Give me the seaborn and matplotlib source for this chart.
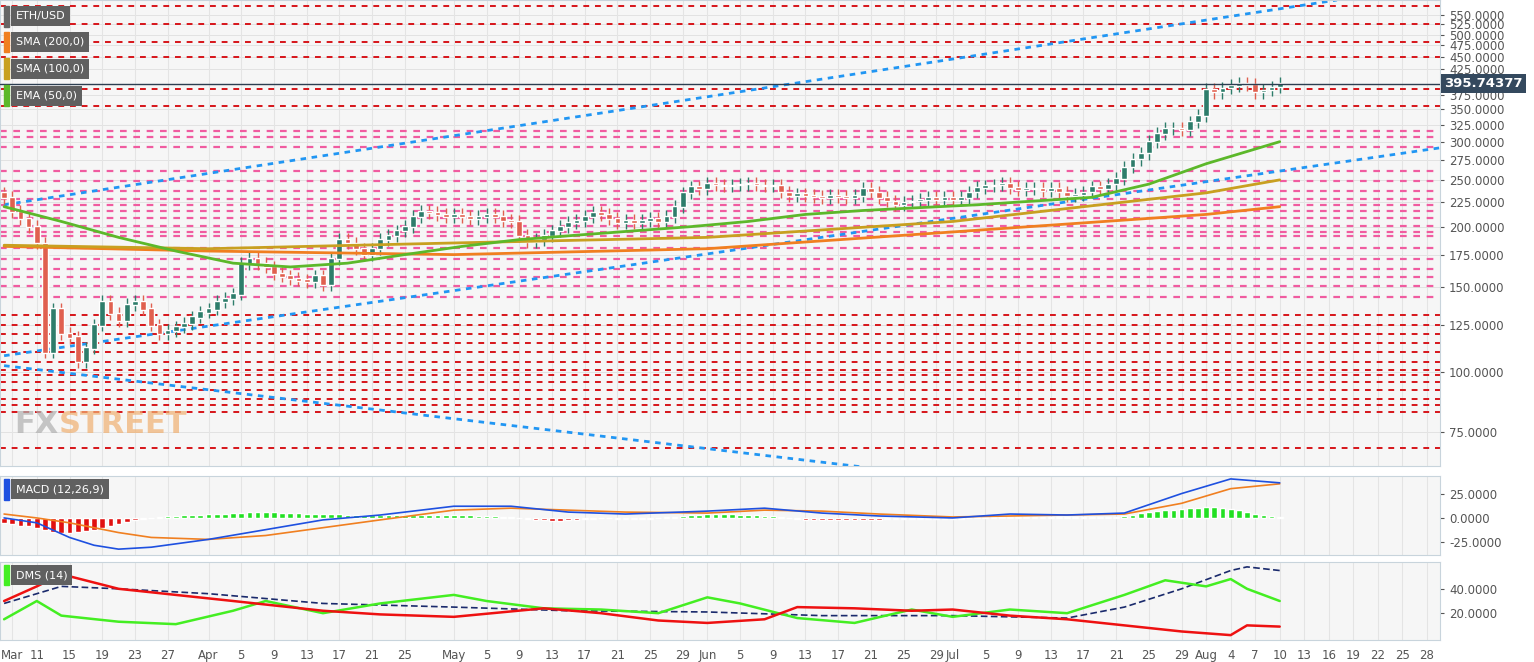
import numpy as np
import pandas as pd
import matplotlib
matplotlib.use("Agg")
import matplotlib.pyplot as plt
import matplotlib.ticker as mticker
import seaborn as sns

sns.set_style("white")
plt.rcParams['font.family'] = ['DejaVu Sans']

# ---------------- data ----------------
# day index: 0 = Mar 7
closes_mar = [230, 215, 208, 200, 185, 110, 135, 120, 118, 105, 112, 125, 140, 132,
              128, 138, 140, 135, 125, 120, 122, 124, 126, 130, 133]
closes_apr = [135, 140, 142, 145, 168, 172, 168, 165, 160, 158, 156, 155, 154, 158, 152,
              172, 188, 185, 180, 175, 180, 188, 192, 196, 200, 210, 215, 214, 212, 210]
closes_may = [212, 210, 208, 210, 212, 210, 206, 205, 192, 186, 188, 192, 196, 200, 204,
              206, 210, 214, 212, 208, 204, 206, 204, 206, 208, 205, 210, 220, 235, 242, 240]
closes_jun = [246, 244, 243, 244, 245, 246, 244, 243, 244, 236, 232, 234, 232, 231, 230,
              232, 231, 230, 232, 240, 236, 230, 226, 222, 225, 226, 228, 230, 228, 230]
closes_jul = [228, 230, 236, 241, 243, 244, 246, 241, 239, 240, 240, 238, 240, 236, 232,
              233, 236, 242, 240, 245, 252, 266, 276, 284, 300, 312, 320, 320, 318, 330, 340]
closes_aug = [386, 380, 388, 392, 396, 394, 380, 384, 390, 396]
closes = closes_mar + closes_apr + closes_may + closes_jun + closes_jul + closes_aug

ma_days = [0, 7, 14, 21, 28, 35, 42, 49, 56, 63, 70, 77, 84, 91, 98, 105, 112, 119, 126, 133, 140, 147, 156]
ema50 = [220, 205, 190, 178, 168, 165, 168, 175, 182, 188, 192, 196, 200, 205, 212, 216, 219, 222, 226, 230, 245, 270, 300]
sma_days = [0, 25, 55, 86, 116, 147, 156]
sma100 = [183, 180, 185, 190, 205, 235, 250]
sma200 = [182, 178, 175, 180, 195, 212, 220]

red_levels = [572, 525, 483, 450, 385, 356, 131, 125, 120, 115, 110, 105, 101, 98.6, 95.3, 91.7, 88, 85.4, 82.6, 69.5]
pink_levels = [316, 307, 292, 261, 249, 237, 228, 222, 216, 208, 201, 195, 191, 181, 171, 163, 157, 151, 143]

trend_x = [[0, 163], [0, 176], [0, 105]]
trend_y = [[222, 590], [108, 292], [103, 63.5]]

last_price = 395.74377

hist = ([-5, -6, -8, -8] +
        [-10, -12, -14, -15, -15, -14, -13, -12, -10, -8] +
        [-6, -4, -2, -1, 0, 1, 2, 2, 3, 3, 3] +
        [4, 4, 4, 5, 5, 6, 6, 6, 6, 5, 5, 5, 4, 4, 4, 4, 4, 3, 3, 3, 3, 3, 3, 3, 3, 3, 3, 3, 3, 3] +
        [3, 3, 3, 2, 2, 2, 1, 1, 0, -1, -2, -2, -3, -3, -2, -2, -1, -1, 0, 0, -1, -1, -1, -1, -1, 0, 1, 1, 2, 3, 3] +
        [4, 4, 4, 4, 3, 3, 3, 2, 2, 1, 0, -1, -2, -2, -2, -2, -2, -2, -2, -2, -2, -2, -1, -1, -1, -1, -1, -1, -1, -1] +
        [-1, -1, 0, 1, 1, 1, 1, 1, 1, 1, 1, 1, 1, 1, 1, 1, 1, 1, 1, 1, 1, 2, 3, 5, 6, 7, 8, 8, 9, 10, 10] +
        [11, 11, 10, 9, 8, 6, 4, 3, 2, 1])
macd_days = [0, 4, 8, 11, 14, 18, 25, 32, 39, 46, 55, 62, 69, 76, 86, 93, 100, 107, 116, 123, 130, 137, 144, 150, 156]
macd = [0, -5, -20, -28, -32, -30, -22, -12, -2, 3, 12, 12, 6, 4, 7, 10, 5, 2, 0, 4, 3, 5, 25, 40, 36]
signal = [4, 0, -5, -10, -15, -20, -22, -18, -10, -2, 8, 10, 8, 6, 5, 8, 7, 4, 1, 2, 3, 4, 15, 30, 35]

dms_days = [0, 4, 7, 14, 21, 28, 32, 39, 46, 55, 59, 66, 73, 80, 86, 90, 97, 104, 111, 116, 123, 130, 137, 142, 147, 150, 152, 156]
plus_di = [15, 30, 18, 13, 11, 22, 30, 20, 28, 35, 30, 24, 23, 20, 33, 28, 16, 12, 23, 17, 23, 20, 35, 47, 42, 48, 40, 30]
minus_days = [0, 4, 7, 14, 21, 28, 39, 46, 55, 66, 73, 80, 86, 93, 97, 104, 111, 116, 123, 130, 137, 144, 150, 152, 156]
minus_di = [30, 42, 52, 40, 35, 30, 22, 19, 17, 24, 20, 14, 12, 15, 25, 24, 22, 23, 18, 15, 10, 5, 2, 10, 9]
adx_days = [0, 7, 14, 25, 39, 55, 69, 86, 100, 116, 130, 137, 144, 150, 152, 156]
adx = [28, 42, 40, 36, 28, 25, 22, 21, 18, 18, 16, 25, 40, 55, 58, 55]

xtick_days = [1, 4, 8, 12, 16, 20, 25, 29, 33, 37, 41, 45, 49, 55, 59, 63, 67, 71, 75, 79, 83,
              86, 90, 94, 98, 102, 106, 110, 114, 116, 120, 124, 128, 132, 136, 140, 144,
              147, 150, 153, 156, 159, 162, 165, 168, 171, 174]
xtick_labels = ["Mar", "11", "15", "19", "23", "27", "Apr", "5", "9", "13", "17", "21", "25",
                "May", "5", "9", "13", "17", "21", "25", "29", "Jun", "5", "9", "13", "17", "21", "25", "29",
                "Jul", "5", "9", "13", "17", "21", "25", "29",
                "Aug", "4", "7", "10", "13", "16", "19", "22", "25", "28"]

# ---------------- figure ----------------
fig = plt.figure(figsize=(15.34, 6.62), dpi=100)
W = 1440 / 1534
ax = fig.add_axes([0, 1 - 466 / 662, W, 466 / 662])
ax2 = fig.add_axes([0, 1 - 555 / 662, W, 79 / 662], sharex=ax)
ax3 = fig.add_axes([0, 1 - 640 / 662, W, 78 / 662], sharex=ax)
bg = "#f6f6f6"
for a in (ax, ax2, ax3):
    a.set_facecolor(bg)
    a.yaxis.tick_right()
    a.tick_params(axis='y', labelsize=8.5, colors="#555555", length=3)
    a.tick_params(axis='x', labelsize=8.5, colors="#555555", length=3)
    for s in a.spines.values():
        s.set_color("#c8d4dc")
    a.grid(axis='x', color="#e4e4e4", lw=0.8)
XMIN, XMAX = -0.5, 175.6

# price panel
ax.set_yscale('log')
ax.set_ylim(63.8, 590)
for lv in red_levels:
    ax.axhline(lv, color="#d7141a", ls=(0, (3, 3)), lw=1.4, zorder=1)
for lv in pink_levels:
    ax.axhline(lv, color="#f05ca0", ls=(0, (3, 3)), lw=1.6, zorder=1)
for tx, ty in zip(trend_x, trend_y):
    ax.plot(tx, ty, color="#2196f3", ls=(0, (2, 2)), lw=2, zorder=2)

df = pd.DataFrame({"day": np.arange(len(closes)), "close": closes})
df["open"] = df["close"].shift(1).fillna(235)
up = df["close"] >= df["open"]
top = df[["open", "close"]].max(axis=1)
bot = df[["open", "close"]].min(axis=1)
cols = np.where(up, "#2e7d6b", "#e0604f")
ax.vlines(df["day"], bot * 0.97, top * 1.03, color=cols, lw=1, zorder=3)
ax.bar(df["day"], top - bot + 0.8, bottom=bot - 0.4, width=0.7, color=cols, zorder=4)

sns.lineplot(x=sma_days, y=sma200, ax=ax, color="#f07f20", lw=2, zorder=5)
sns.lineplot(x=sma_days, y=sma100, ax=ax, color="#c8a020", lw=2, zorder=5)
sns.lineplot(x=ma_days, y=ema50, ax=ax, color="#5cb82a", lw=2, zorder=5)
ax.axhline(last_price, color="#2c3e50", lw=1, zorder=5)

yt = [75, 100, 125, 150, 175, 200, 225, 250, 275, 300, 325, 350, 375, 425, 450, 475, 500, 525, 550]
ax.yaxis.set_major_locator(mticker.FixedLocator(yt))
ax.yaxis.set_minor_locator(mticker.NullLocator())
ax.yaxis.set_major_formatter(mticker.FuncFormatter(lambda v, p: f"{v:.4f}"))
ax.text(1.003, np.log10(last_price / 63.8) / np.log10(590 / 63.8), f"{last_price:.5f}",
        transform=ax.transAxes, va='center', ha='left', fontsize=9.5, color='white',
        fontweight='bold', bbox=dict(boxstyle="square,pad=0.25", fc="#34495e", ec="none"), zorder=10)
for lv in yt:
    ax.axhline(lv, color="#e2e2e2", lw=0.7, zorder=0)

labels = [("ETH/USD", "#666666"), ("SMA (200,0)", "#f07f20"), ("SMA (100,0)", "#c8a020"), ("EMA (50,0)", "#5cb82a")]
ys = [0.965, 0.91, 0.853, 0.795]
for (t, c), yy in zip(labels, ys):
    ax.text(0.011, yy, t, transform=ax.transAxes, fontsize=8, color="white", va='center',
            bbox=dict(boxstyle="square,pad=0.45", fc="#606060", ec="none"), zorder=10)
    ax.add_patch(plt.Rectangle((0.003, yy - 0.022), 0.003, 0.044, transform=ax.transAxes, color=c, zorder=11))
ax.text(0.01, 0.07, "FX", transform=ax.transAxes, fontsize=22, color="#b0b0b0", fontweight='bold', alpha=0.7)
ax.text(0.041, 0.07, "STREET", transform=ax.transAxes, fontsize=22, color="#f0b070", fontweight='bold', alpha=0.7)
plt.setp(ax.get_xticklabels(), visible=False)

# MACD panel
ax2.set_ylim(-38, 43)
hc = np.where(np.array(hist) >= 0, "#22e022", "#e01010")
ax2.bar(np.arange(len(hist)), hist, width=0.7, color=hc, zorder=3)
sns.lineplot(x=macd_days, y=signal, ax=ax2, color="#f07f20", lw=1.2, zorder=4)
sns.lineplot(x=macd_days, y=macd, ax=ax2, color="#1e50e0", lw=1.2, zorder=5)
ax2.set_yticks([-25, 0, 25])
ax2.yaxis.set_major_formatter(mticker.FuncFormatter(lambda v, p: f"{v:.4f}"))
ax2.text(0.011, 0.83, "MACD (12,26,9)", transform=ax2.transAxes, fontsize=8, color="white", va='center',
         bbox=dict(boxstyle="square,pad=0.45", fc="#606060", ec="none"), zorder=10)
ax2.add_patch(plt.Rectangle((0.003, 0.7), 0.003, 0.26, transform=ax2.transAxes, color="#1e50e0", zorder=11))
plt.setp(ax2.get_xticklabels(), visible=False)

# DMS panel
ax3.set_ylim(-2, 62)
sns.lineplot(x=adx_days, y=adx, ax=ax3, color="#1a2a6c", lw=1.2, ls=(0, (4, 2)), zorder=3)
sns.lineplot(x=dms_days, y=plus_di, ax=ax3, color="#44ee22", lw=1.8, zorder=4)
sns.lineplot(x=minus_days, y=minus_di, ax=ax3, color="#ee1111", lw=1.8, zorder=5)
ax3.set_yticks([20, 40])
ax3.yaxis.set_major_formatter(mticker.FuncFormatter(lambda v, p: f"{v:.4f}"))
ax3.text(0.011, 0.83, "DMS (14)", transform=ax3.transAxes, fontsize=8, color="white", va='center',
         bbox=dict(boxstyle="square,pad=0.45", fc="#606060", ec="none"), zorder=10)
ax3.add_patch(plt.Rectangle((0.003, 0.7), 0.003, 0.26, transform=ax3.transAxes, color="#44ee22", zorder=11))
ax3.set_xticks(xtick_days)
ax3.set_xticklabels(xtick_labels)
ax3.set_xlim(XMIN, XMAX)
for a in (ax, ax2, ax3):
    a.set_xlabel(""); a.set_ylabel("")
    if a.get_legend(): a.get_legend().remove()

fig.savefig("out.png", dpi=100, facecolor="white")
